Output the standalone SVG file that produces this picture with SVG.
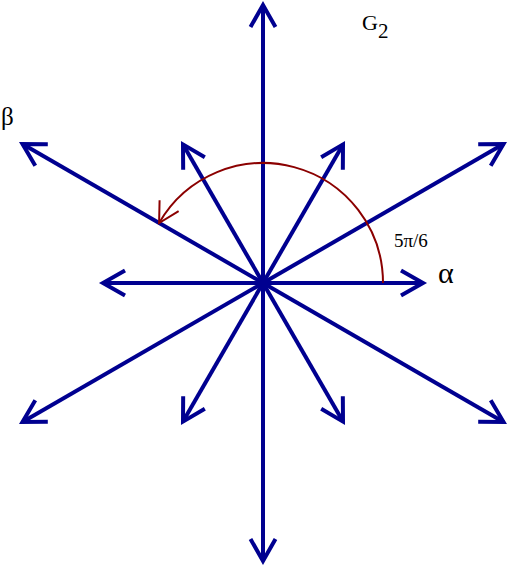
<svg xmlns="http://www.w3.org/2000/svg" width="507" height="565" viewBox="0 0 507 565">
<style>
.root{stroke:#000090;stroke-width:4;fill:none;marker-end:url(#ah)}
.arc{stroke:#8b0000;stroke-width:2;fill:none;marker-end:url(#ah2)}
text{font-family:"Liberation Serif","DejaVu Serif",serif;fill:#000}
</style>
<defs>
<marker id="ah" markerUnits="userSpaceOnUse" viewBox="-30 -20 40 40" refX="0" refY="0" markerWidth="40" markerHeight="40" orient="auto">
<path d="M-22,-12.5 L0,0 L-22,12.5" fill="none" stroke="#000090" stroke-width="4"/>
</marker>
<marker id="ah2" markerUnits="userSpaceOnUse" viewBox="-30 -20 40 40" refX="0" refY="0" markerWidth="40" markerHeight="40" orient="auto">
<path d="M-20,-11 L0,0 L-20,11" fill="none" stroke="#8b0000" stroke-width="2"/>
</marker>
</defs>
<g id="connectors">
<line class="root" x1="263" y1="283" x2="263" y2="5"/>
<line class="root" x1="263" y1="283" x2="263" y2="561"/>
<line class="root" x1="263" y1="283" x2="503.5" y2="144"/>
<line class="root" x1="263" y1="283" x2="22.5" y2="144"/>
<line class="root" x1="263" y1="283" x2="22.5" y2="422"/>
<line class="root" x1="263" y1="283" x2="503.5" y2="422"/>
<line class="root" x1="263" y1="283" x2="423" y2="283"/>
<line class="root" x1="263" y1="283" x2="103" y2="283"/>
<line class="root" x1="263" y1="283" x2="343" y2="144.4"/>
<line class="root" x1="263" y1="283" x2="183" y2="144.4"/>
<line class="root" x1="263" y1="283" x2="183" y2="421.6"/>
<line class="root" x1="263" y1="283" x2="343" y2="421.6"/>
<path class="arc" d="M383,283 A120,120 0 0 0 159.1,223"/>
</g>
<g id="labels">
<text x="362" y="30" font-size="22">G<tspan font-size="21" dy="8">2</tspan></text>
<text x="1" y="125" font-size="25">β</text>
<text x="438" y="283" font-size="30">α</text>
<text x="394" y="247" font-size="19">5π/6</text>
</g>
</svg>
